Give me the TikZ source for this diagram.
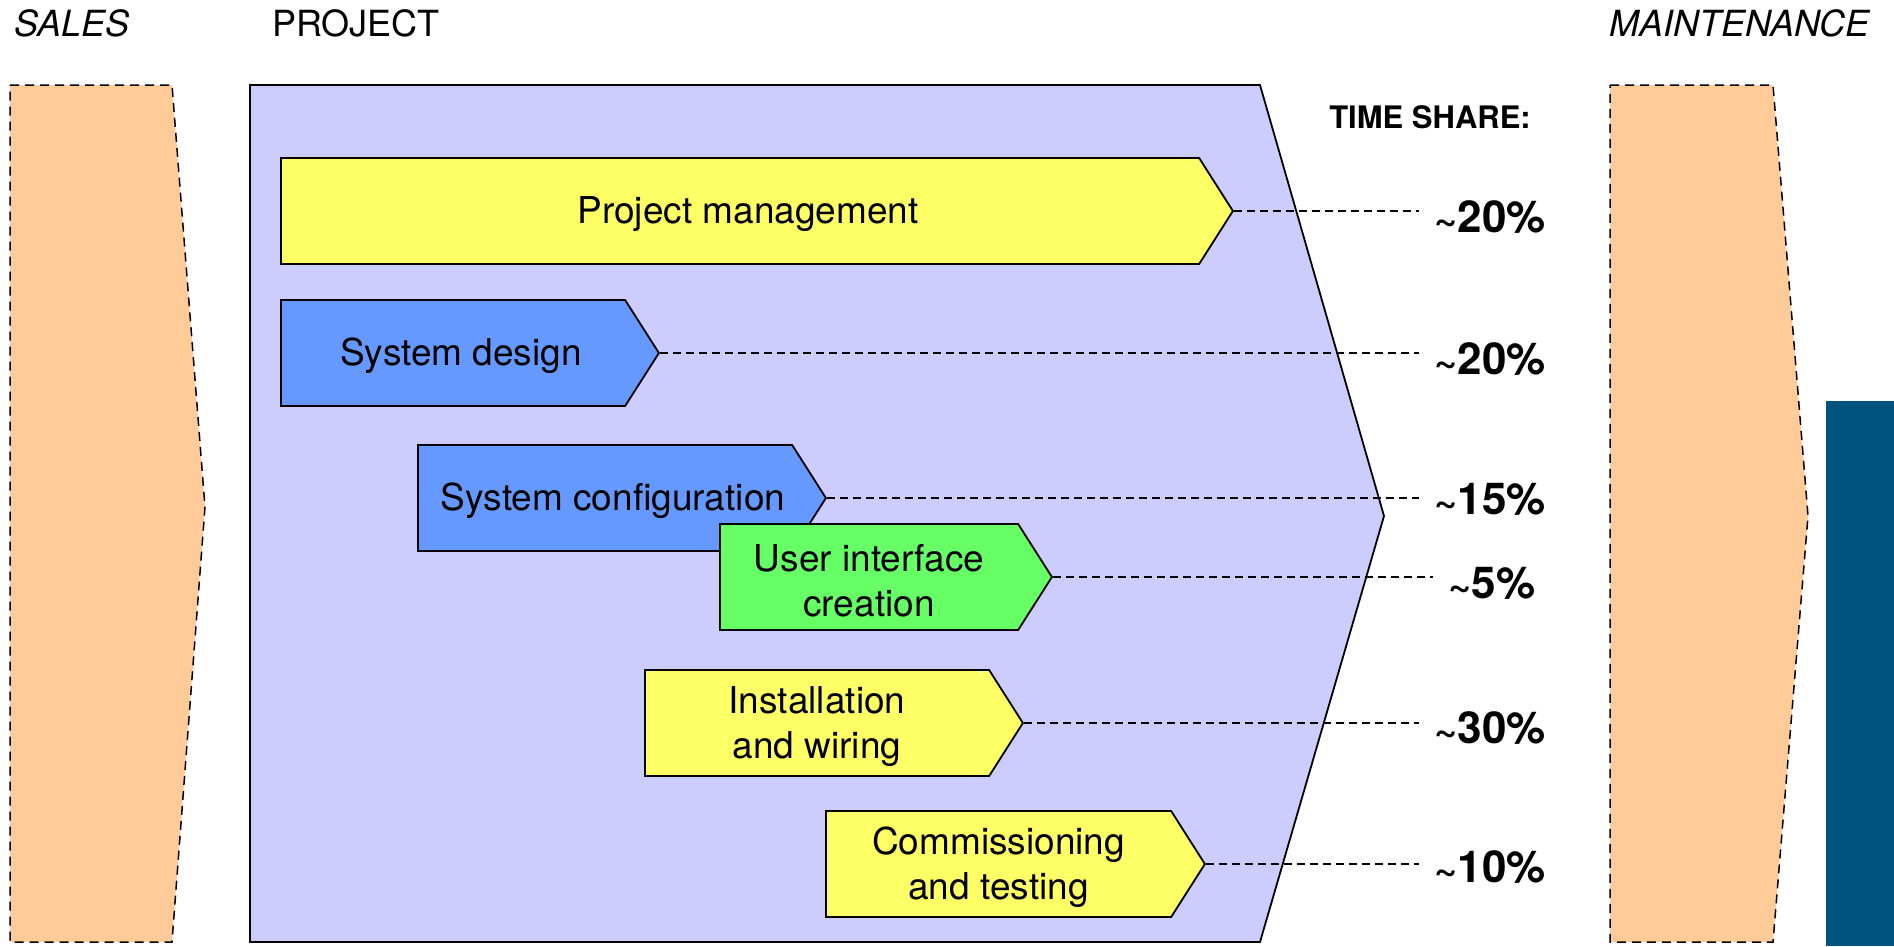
\documentclass[tikz,border=0pt]{standalone}
\usepackage{fontspec}
\setmainfont{TeX Gyre Heros}
\usetikzlibrary{shapes.symbols}

\definecolor{phasepeach}{HTML}{FFCC99}
\definecolor{projlilac}{HTML}{CCCCFF}
\definecolor{taskyellow}{HTML}{FFFF66}
\definecolor{taskblue}{HTML}{6699FF}
\definecolor{taskgreen}{HTML}{66FF66}
\definecolor{barblue}{HTML}{00527F}

\newcommand{\approxsign}{{\fontsize{40}{40}\selectfont\textasciitilde}}

\begin{document}
\begin{tikzpicture}[x=1pt,y=-1pt,
	phase/.style={fill=phasepeach,draw=black,line width=1.5pt,dash pattern=on 9pt off 6pt},
	task/.style={signal,signal to=east,signal pointer angle=115,draw=black,line width=1.8pt,
		minimum height=106pt,inner sep=0pt,anchor=west,align=center,
		font=\fontsize{37}{45}\selectfont},
	nudge/.style={text height=33pt,execute at begin node={\hspace*{16pt}}},
	twoline/.style={text height=79pt},
	share/.style={line width=1.5pt,dash pattern=on 8pt off 5pt,shorten >=12pt},
	pct/.style={font=\fontsize{44}{44}\selectfont\bfseries},
	head/.style={font=\fontsize{36}{36}\selectfont,inner sep=0pt}]
	\useasboundingbox (0,0) rectangle (1894,946);

	% The phases
	\draw[phase] (10,85) -- (172,85) -- (205,507) -- (172,942) -- (10,942) -- cycle;
	\draw[phase] (1610,85) -- (1773,85) -- (1808,516) -- (1773,942) -- (1610,942) -- cycle;
	\draw[fill=projlilac,line width=1.8pt] (250,85) -- (1260,85) -- (1384,516) -- (1260,942) -- (250,942) -- cycle;
	\fill[barblue] (1826,401) rectangle (1894,946);

	% The titles
	\node[head,anchor=base west] (sales) at (14,36) {\itshape SALES};
	\node[head,anchor=base west] (project) at (272,36) {PROJECT};
	\node[head,anchor=base east] (maint) at (1870,36) {\itshape MAINTENANCE};
	\node[font=\fontsize{31}{31}\selectfont\bfseries] (timeshare) at (1430,117) {TIME SHARE:};

	% Place the tasks
	\node[task,nudge,fill=taskyellow,minimum width=952pt] (pm) at (280,211) {Project management};
	\node[task,nudge,fill=taskblue,minimum width=378pt] (sd) at (280,353) {System design};
	\node[task,nudge,fill=taskblue,minimum width=408pt] (sc) at (417,498) {System configuration};
	\node[task,twoline,fill=taskgreen,minimum width=332pt] (ui) at (719,577) {User interface\\creation};
	\node[task,twoline,fill=taskyellow,minimum width=378pt] (iw) at (644,723) {Installation\\and wiring};
	\node[task,twoline,fill=taskyellow,minimum width=379pt] (ct) at (825,864) {Commissioning\\and testing};

	% The shares
	\node[pct] (pmshare) at (1490,217) {\approxsign20\%};
	\node[pct] (sdshare) at (1490,359) {\approxsign20\%};
	\node[pct] (scshare) at (1490,499) {\approxsign15\%};
	\node[pct] (uishare) at (1492,583) {\approxsign5\%};
	\node[pct] (iwshare) at (1490,728) {\approxsign30\%};
	\node[pct] (ctshare) at (1490,867) {\approxsign10\%};

	% Draw the lines
	\draw[share] (pm.east) -- (pm.east -| pmshare.west);
	\draw[share] (sd.east) -- (sd.east -| sdshare.west);
	\draw[share] (sc.east) -- (sc.east -| scshare.west);
	\draw[share] (ui.east) -- (ui.east -| uishare.west);
	\draw[share] (iw.east) -- (iw.east -| iwshare.west);
	\draw[share] (ct.east) -- (ct.east -| ctshare.west);

\end{tikzpicture}
\end{document}
